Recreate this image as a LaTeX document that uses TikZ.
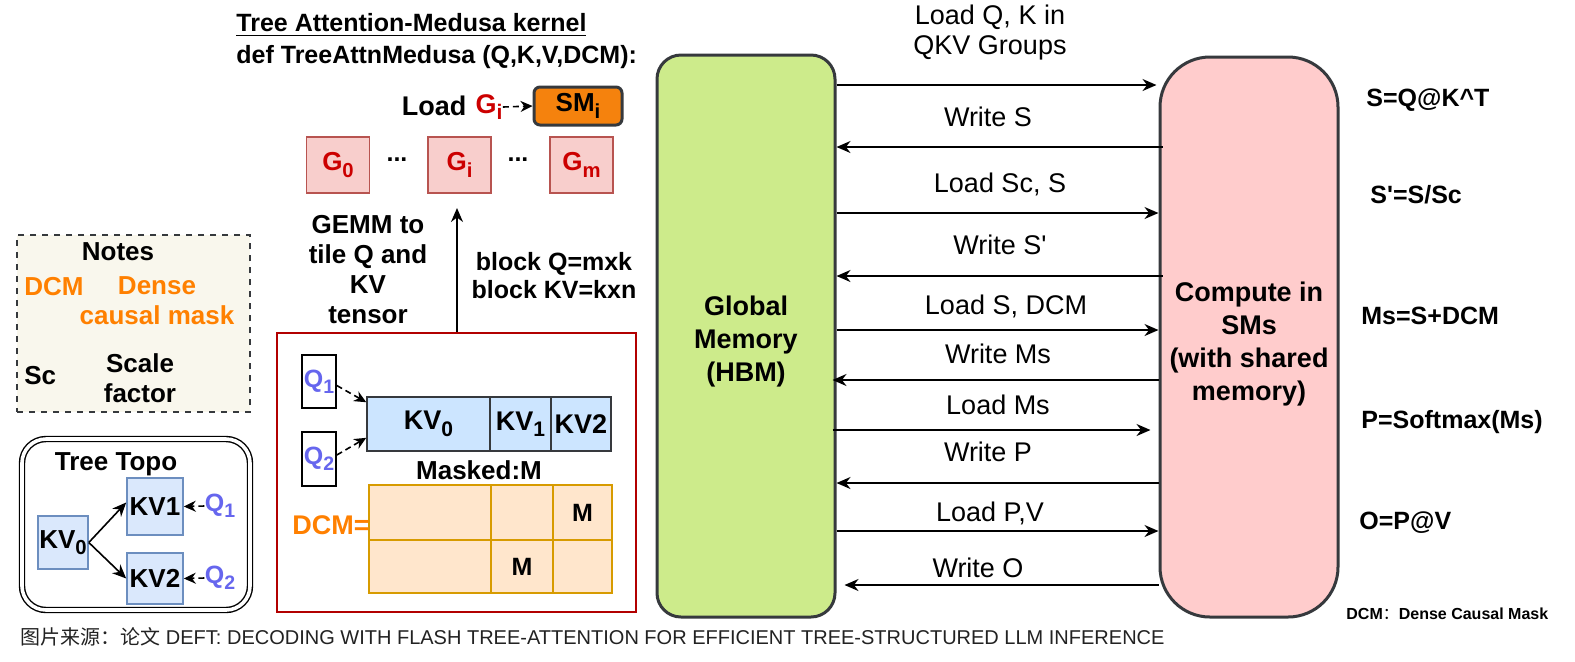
\documentclass[tikz,border=0pt]{standalone}
\usepackage{fontspec}
\setmainfont{Liberation Sans}
\newfontfamily\cjk{Noto Sans CJK SC}
\usetikzlibrary{arrows.meta}
\newcommand{\mysub}[1]{\raisebox{-0.45ex}{\scalebox{0.78}{#1}}}
\newcommand{\apos}{\textquotesingle}
\definecolor{gmfill}{HTML}{CDEB8B}
\definecolor{cmfill}{HTML}{FFCCCC}
\definecolor{dk}{HTML}{36393D}
\definecolor{gfill}{HTML}{F8CECC}
\definecolor{gline}{HTML}{B85450}
\definecolor{gred}{HTML}{CC0000}
\definecolor{kvfill}{HTML}{CCE5FF}
\definecolor{tfill}{HTML}{DAE8FC}
\definecolor{tline}{HTML}{6C8EBF}
\definecolor{dfill}{HTML}{FFE6CC}
\definecolor{dline}{HTML}{D79B00}
\definecolor{nfill}{HTML}{F9F7ED}
\definecolor{smfill}{HTML}{F5820D}
\definecolor{rbox}{HTML}{B20000}
\definecolor{qblue}{HTML}{6666EE}
\definecolor{orng}{HTML}{FF8000}
\definecolor{capc}{HTML}{222222}
\begin{document}
\begin{tikzpicture}[x=0.5pt,y=-0.5pt,
  arr/.style={-{Stealth[length=7pt,width=6pt]}, line width=0.9pt},
  darr/.style={-{Stealth[length=6pt,width=5.5pt]}, line width=0.8pt, dash pattern=on 3pt off 2pt},
  lbl/.style={font=\fontsize{13.5}{15}\selectfont, inner sep=0pt, align=center},
  bl/.style={font=\fontsize{12.5}{15}\selectfont\bfseries, inner sep=0pt, align=center},
  rl/.style={font=\fontsize{12.5}{15}\selectfont\bfseries, inner sep=0pt, anchor=west},
  bigbox/.style={draw=dk, line width=1.5pt, inner sep=0pt},
  bigtxt/.style={font=\fontsize{13.5}{16.5}\selectfont\bfseries, align=center, inner sep=0pt},
  gbox/.style={draw=gline, fill=gfill, line width=0.8pt, minimum width=31.5pt, minimum height=28pt, inner sep=0pt, font=\fontsize{13}{15}\selectfont\bfseries, text=gred},
  kvcell/.style={draw=dk, fill=kvfill, line width=0.8pt, minimum height=27pt, inner sep=0pt, font=\fontsize{13.5}{15}\selectfont\bfseries},
  dcell/.style={draw=dline, fill=dfill, line width=0.8pt, inner sep=0pt, font=\fontsize{12.5}{15}\selectfont\bfseries},
  qbox/.style={draw=black, line width=0.8pt, minimum width=17pt, minimum height=26.5pt, inner sep=0pt, font=\fontsize{12.5}{15}\selectfont\bfseries, text=qblue},
  tkv/.style={draw=tline, fill=tfill, line width=0.8pt, inner sep=0pt, font=\fontsize{13}{15}\selectfont\bfseries},
]
\useasboundingbox (0,0) rectangle (1575,661);
\fill[white] (0,0) rectangle (1575,661);

% ---------- big boxes
\node[bigbox, fill=gmfill, rounded corners=12pt, minimum width=89pt, minimum height=281pt] (gm) at (746,336) {};
\node[bigtxt] (gmt) at (746,342) {Global\\Memory\\(HBM)};
\node[bigbox, fill=cmfill, rounded corners=25pt, minimum width=89pt, minimum height=280pt] (cm) at (1249,337) {};
\node[bigtxt] (cmt) at (1249,344) {Compute in\\SMs\\(with shared\\memory)};

% ---------- memory arrows
\coordinate (y1) at (0,85);
\coordinate (y2) at (0,147);
\coordinate (y3) at (0,213);
\coordinate (y4) at (0,276);
\coordinate (y5) at (0,330);
\coordinate (y6) at (0,380);
\coordinate (y7) at (0,430);
\coordinate (y8) at (0,483);
\coordinate (y9) at (0,531);
\coordinate (y10) at (0,585);
\draw[arr] (gm.east |- y1) -- ([xshift=-1pt]cm.west |- y1);
\draw[arr] ([xshift=2pt]cm.west |- y2) -- (gm.east |- y2);
\draw[arr] (gm.east |- y3) -- (cm.west |- y3);
\draw[arr] ([xshift=2pt]cm.west |- y4) -- (gm.east |- y4);
\draw[arr] (gm.east |- y5) -- (cm.west |- y5);
\draw[arr] (cm.west |- y6) -- ([xshift=-2pt]gm.east |- y6);
\draw[arr] ([xshift=-2pt]gm.east |- y7) -- ([xshift=-4pt]cm.west |- y7);
\draw[arr] (cm.west |- y8) -- (gm.east |- y8);
\draw[arr] (gm.east |- y9) -- (cm.west |- y9);
\draw[arr] (cm.west |- y10) -- ([xshift=4pt]gm.east |- y10);

\node[lbl] (l1) at (990,33) {Load Q, K in\\QKV Groups};
\node[lbl] (l2) at (988,117) {Write S};
\node[lbl] (l3) at (1000,184) {Load Sc, S};
\node[lbl] (l4) at (1000,245) {Write S\apos};
\node[lbl] (l5) at (1006,306) {Load S, DCM};
\node[lbl] (l6) at (998,354) {Write Ms};
\node[lbl] (l7) at (998,405) {Load Ms};
\node[lbl] (l8) at (988,452) {Write P};
\node[lbl] (l9) at (990,513) {Load P,V};
\node[lbl] (l10) at (978,568) {Write O};

% ---------- right formulas
\node[rl] (f1) at (1366,100) {S=Q@K\^{}T};
\node[rl] (f2) at (1370,195) {S\apos=S/Sc};
\node[rl] (f3) at (1361,316) {Ms=S+DCM};
\node[rl] (f4) at (1361,422) {P=Softmax(Ms)};
\node[rl] (f5) at (1359,523) {O=P@V};
\node[inner sep=0pt, anchor=west, font=\fontsize{8}{10}\selectfont\bfseries] (f6) at (1346,614) {DCM{\cjk\mdseries ：}Dense Causal Mask};

% ---------- kernel title
\node[bl, anchor=west] (t1) at (236,25) {\underline{Tree Attention-Medusa kernel}};
\node[bl, anchor=west] (t2) at (236,57) {def TreeAttnMedusa (Q,K,V,DCM):};

\node[draw=dk, fill=smfill, line width=1.5pt, rounded corners=3pt, minimum width=44pt, minimum height=19pt, inner sep=0pt, font=\fontsize{13}{15}\selectfont\bfseries] (sm) at (578,106) {SM\mysub{i}};
\node[bl, font=\fontsize{13.5}{15}\selectfont\bfseries] (load) at (434,106) {Load};
\node[bl, font=\fontsize{13.5}{15}\selectfont\bfseries, text=gred] (lgi) at (489,107) {G\mysub{i}};
\draw[darr] (lgi.east) -- (sm.west);

\node[gbox] (g0) at (338,165) {G\mysub{0}};
\node[gbox] (gi) at (459.5,165) {G\mysub{i}};
\node[gbox] (gm2) at (581.5,165) {G\mysub{m}};
\node[bl] (d1) at (397,160) {...};
\node[bl] (d2) at (518,160) {...};

% ---------- red box
\node[draw=rbox, line width=1pt, fill=white, minimum width=179.5pt, minimum height=139.5pt, inner sep=0pt] (rb) at (456.5,472.5) {};
\coordinate (uptip) at (457,208);
\draw[arr] (rb.north -| uptip) -- (uptip);
\node[bl, font=\fontsize{13}{15}\selectfont\bfseries] (gemm) at (368,270) {GEMM to\\tile Q and\\KV\\tensor};
\node[bl, font=\fontsize{12.5}{14}\selectfont\bfseries] (blk) at (554,276) {block Q=mxk\\block KV=kxn};

\node[qbox] (q1) at (319,381.5) {Q\mysub{1}};
\node[qbox, minimum height=27pt] (q2) at (319,459) {Q\mysub{2}};
\node[kvcell, minimum width=61.5pt] (kv0) at (428.5,424) {KV\mysub{0}};
\node[kvcell, minimum width=30.5pt] (kv1) at (520.5,424) {KV\mysub{1}};
\node[kvcell, minimum width=30pt] (kv2) at (581,424) {KV2};
\draw[darr] ([yshift=-2pt]q1.east) -- ([yshift=-3pt]kv0.north west);
\draw[darr] ([yshift=2pt]q2.east) -- ([yshift=7pt]kv0.south west);

\node[bl, font=\fontsize{13}{15}\selectfont\bfseries] (mk) at (479,470) {Masked:M};
\node[dcell, minimum width=61pt, minimum height=27.5pt] (c11) at (430,512.5) {};
\node[dcell, minimum width=31pt, minimum height=27.5pt] (c12) at (522,512.5) {};
\node[dcell, minimum width=29.5pt, minimum height=27.5pt] (c13) at (582.5,512.5) {M};
\node[dcell, minimum width=61pt, minimum height=26.5pt] (c21) at (430,566.5) {};
\node[dcell, minimum width=31pt, minimum height=26.5pt] (c22) at (522,566.5) {M};
\node[dcell, minimum width=29.5pt, minimum height=26.5pt] (c23) at (582.5,566.5) {};
\node[bl, font=\fontsize{13.5}{15}\selectfont\bfseries, text=orng, anchor=east] (dcm) at (370,525) {DCM=};

% ---------- notes
\node[draw=dk, fill=nfill, dashed, line width=0.7pt, minimum width=116.5pt, minimum height=88.5pt, inner sep=0pt] (notes) at (133.5,323.5) {};
\node[bl, font=\fontsize{13}{15}\selectfont\bfseries] (nt) at (118,252) {Notes};
\node[bl, font=\fontsize{13}{15}\selectfont\bfseries, text=orng, anchor=west] (ndcm) at (24,287) {DCM};
\node[bl, font=\fontsize{13}{15}\selectfont\bfseries, text=orng] (ndense) at (157,301) {Dense\\causal mask};
\node[bl, font=\fontsize{13}{15}\selectfont\bfseries, anchor=west] (nsc) at (24,376) {Sc};
\node[bl, font=\fontsize{13}{15}\selectfont\bfseries] (nscale) at (140,378) {Scale\\factor};

% ---------- tree topo
\node[draw=black, double, double distance=1.8pt, line width=0.7pt, rounded corners=12pt, minimum width=114pt, minimum height=85.5pt, inner sep=0pt] (topo) at (136,524.5) {};
\node[bl, font=\fontsize{13}{15}\selectfont\bfseries] (tt) at (116,464) {Tree Topo};
\node[tkv, minimum width=25pt, minimum height=26.5pt] (t0) at (63,542.5) {KV\mysub{0}};
\node[tkv, minimum width=28pt, minimum height=28.5pt] (tk1) at (155,506.5) {KV1};
\node[tkv, minimum width=28pt, minimum height=25.5pt] (tk2) at (155,578.5) {KV2};
\draw[arr, line width=0.8pt] (t0.east) -- ([yshift=2pt]tk1.west);
\draw[arr, line width=0.8pt] (t0.east) -- (tk2.west);
\node[bl, text=qblue] (tq1) at (220,506) {Q\mysub{1}};
\node[bl, text=qblue] (tq2) at (220,578) {Q\mysub{2}};
\draw[darr] (tq1.west) -- (tk1.east);
\draw[darr] (tq2.west) -- (tk2.east);

% ---------- caption
\node[inner sep=0pt, anchor=west, text=capc, font=\fontsize{10}{12}\selectfont] (cap) at (20,637) {{\cjk 图片来源：论文} DEFT: DECODING WITH FLASH TREE-ATTENTION FOR EFFICIENT TREE-STRUCTURED LLM INFERENCE};
\end{tikzpicture}
\end{document}
